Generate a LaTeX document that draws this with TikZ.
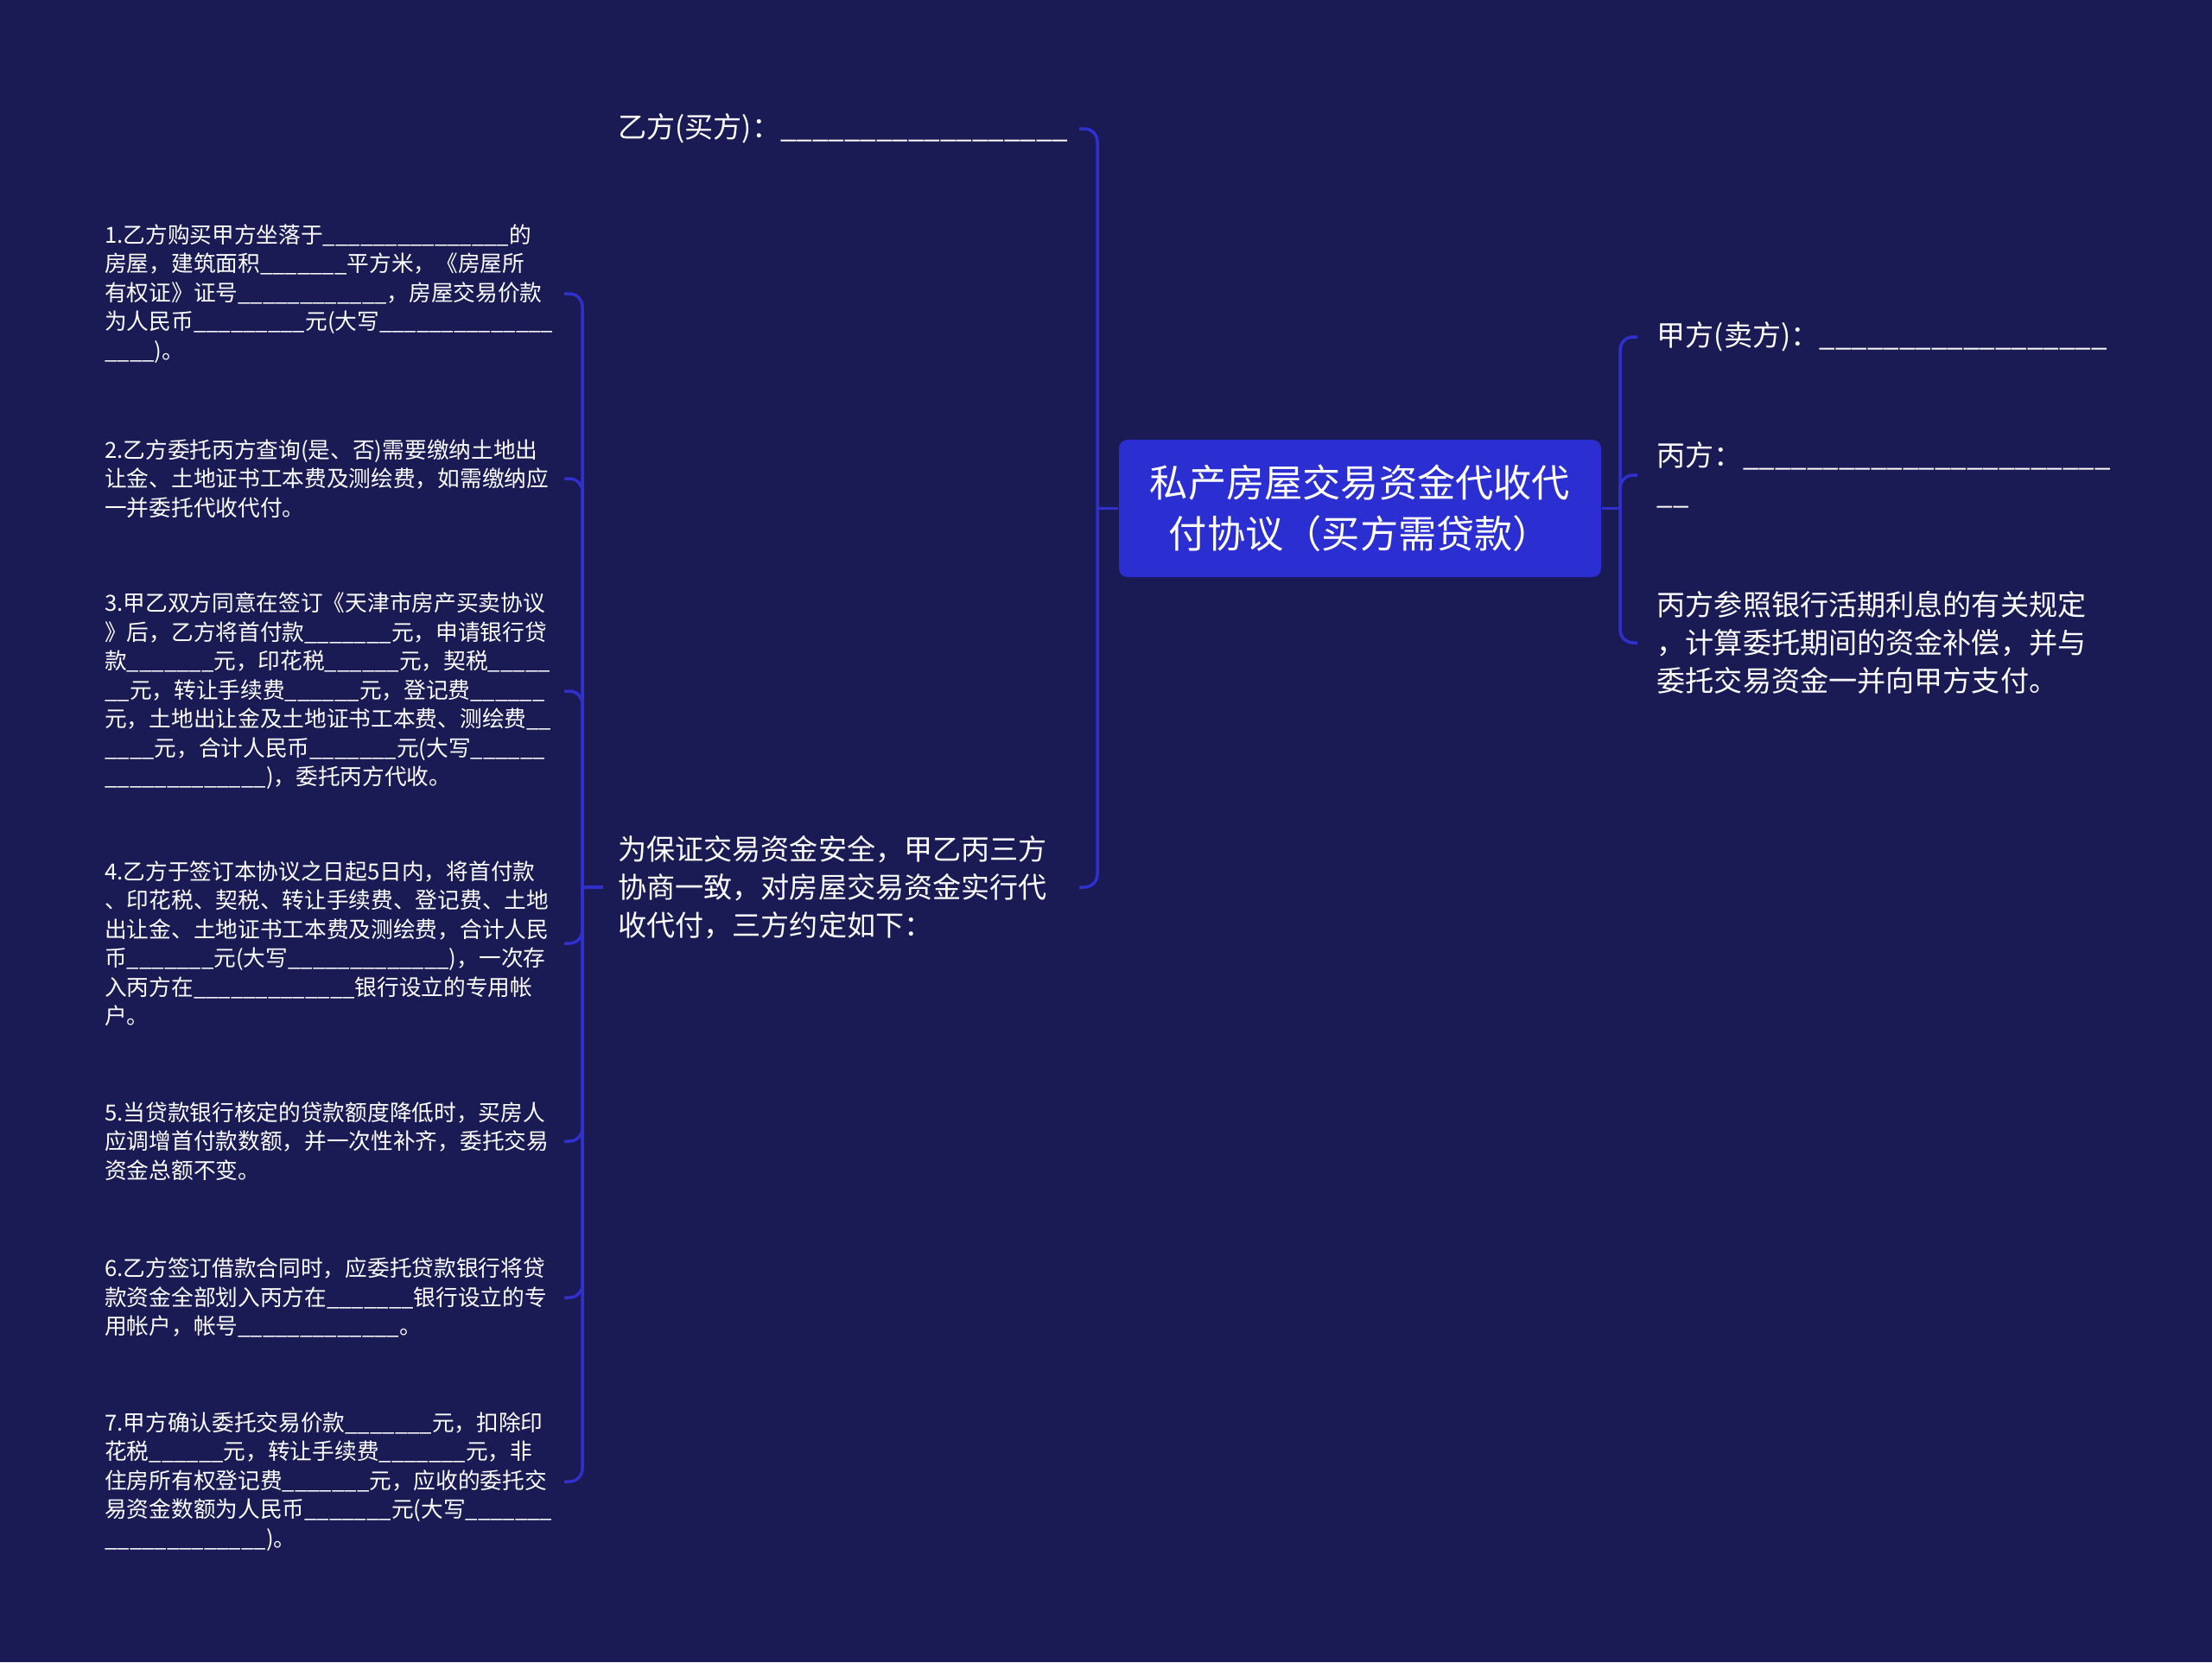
\documentclass[tikz,border=0pt]{standalone}
\usepackage{fontspec}
\setmainfont{Noto Sans CJK SC}
\usepackage{xcolor}

\definecolor{bgnavy}{HTML}{1A1A55}
\definecolor{rootblue}{HTML}{2B2ED0}
\definecolor{linkblue}{HTML}{3030CF}

\ExplSyntaxOn
\newcommand{\blk}[1]{\prg_replicate:nn{#1}{\_}}
\ExplSyntaxOff

\tikzset{
    elbow/.style={to path={|- (\tikztotarget) \tikztonodes}},
}

\begin{document}
\begin{tikzpicture}

    \fill[bgnavy] (0,0) rectangle (25.6,-19.24);

    \node[rectangle, rounded corners=0.1cm, fill=rootblue, text=white, minimum width=5.58cm, minimum height=1.59cm, align=center, font=\fontsize{12.58pt}{16.8pt}\selectfont] (root) at (15.74,-5.885) {私产房屋交易资金代收代\\付协议（买方需贷款）};

    \coordinate (jr) at (18.75,-5.885);
    \coordinate (jl) at (12.70,-5.885);
    \coordinate (jm) at (6.74,-10.27);

    % right side
    \begin{scope}[every node/.style={anchor=west, text=white, text width=5.22cm, inner xsep=0.22cm, inner ysep=0.05cm, align=left, font=\fontsize{9.42pt}{12.52pt}\selectfont}]
        \node (seller) at (18.95,-3.90) {甲方(卖方)：\blk{18}};
        \node (agent) at (18.95,-5.50) {丙方：\blk{23}\\\blk{2}};
        \node (interest) at (18.95,-7.44) {丙方参照银行活期利息的有关规定\\，计算委托期间的资金补偿，并与\\委托交易资金一并向甲方支付。};
    \end{scope}

    % left side
    \begin{scope}[every node/.style={anchor=east, text=white, text width=5.16cm, inner xsep=0.17cm, inner ysep=0.05cm, align=left, font=\fontsize{9.42pt}{12.52pt}\selectfont}]
        \node (buyer) at (12.49,-1.49) {乙方(买方)：\blk{18}};
        \node (purpose) at (12.49,-10.27) {为保证交易资金安全，甲乙丙三方\\协商一致，对房屋交易资金实行代\\收代付，三方约定如下：};
    \end{scope}

    % terms
    \begin{scope}[every node/.style={anchor=east, text=white, text width=5.14cm, inner xsep=0.17cm, inner ysep=0.05cm, align=left, font=\fontsize{7.31pt}{9.53pt}\selectfont}]
        \node (t1) at (6.53,-3.40) {1.乙方购买甲方坐落于\blk{15}的\\房屋，建筑面积\blk{7}平方米，《房屋所\\有权证》证号\blk{12}，房屋交易价款\\为人民币\blk{9}元(大写\blk{14}\\\blk{4})。};
        \node (t2) at (6.53,-5.54) {2.乙方委托丙方查询(是、否)需要缴纳土地出\\让金、土地证书工本费及测绘费，如需缴纳应\\一并委托代收代付。};
        \node (t3) at (6.53,-8.00) {3.甲乙双方同意在签订《天津市房产买卖协议\\》后，乙方将首付款\blk{7}元，申请银行贷\\款\blk{7}元，印花税\blk{6}元，契税\blk{5}\\\blk{2}元，转让手续费\blk{6}元，登记费\blk{6}\\元，土地出让金及土地证书工本费、测绘费\blk{2}\\\blk{4}元，合计人民币\blk{7}元(大写\blk{6}\\\blk{13})，委托丙方代收。};
        \node (t4) at (6.53,-10.92) {4.乙方于签订本协议之日起5日内，将首付款\\、印花税、契税、转让手续费、登记费、土地\\出让金、土地证书工本费及测绘费，合计人民\\币\blk{7}元(大写\blk{13})，一次存\\入丙方在\blk{13}银行设立的专用帐\\户。};
        \node (t5) at (6.53,-13.21) {5.当贷款银行核定的贷款额度降低时，买房人\\应调增首付款数额，并一次性补齐，委托交易\\资金总额不变。};
        \node (t6) at (6.53,-15.02) {6.乙方签订借款合同时，应委托贷款银行将贷\\款资金全部划入丙方在\blk{7}银行设立的专\\用帐户，帐号\blk{13}。};
        \node (t7) at (6.53,-17.15) {7.甲方确认委托交易价款\blk{7}元，扣除印\\花税\blk{6}元，转让手续费\blk{7}元，非\\住房所有权登记费\blk{7}元，应收的委托交\\易资金数额为人民币\blk{7}元(大写\blk{7}\\\blk{13})。};
    \end{scope}

    \begin{scope}[every edge/.style={draw=linkblue, line width=0.035cm, rounded corners=0.15cm}]
        \path (root) edge (jr);
        \path (root) edge (jl);
        \path (jr) edge[elbow] (seller);
        \path (jr) edge[elbow] (agent);
        \path (jr) edge[elbow] (interest);
        \path (jl) edge[elbow] (buyer);
        \path (jl) edge[elbow] (purpose);
        \path (purpose) edge (jm);
        \path (jm) edge[elbow] (t1);
        \path (jm) edge[elbow] (t2);
        \path (jm) edge[elbow] (t3);
        \path (jm) edge[elbow] (t4);
        \path (jm) edge[elbow] (t5);
        \path (jm) edge[elbow] (t6);
        \path (jm) edge[elbow] (t7);
    \end{scope}

\end{tikzpicture}
\end{document}
